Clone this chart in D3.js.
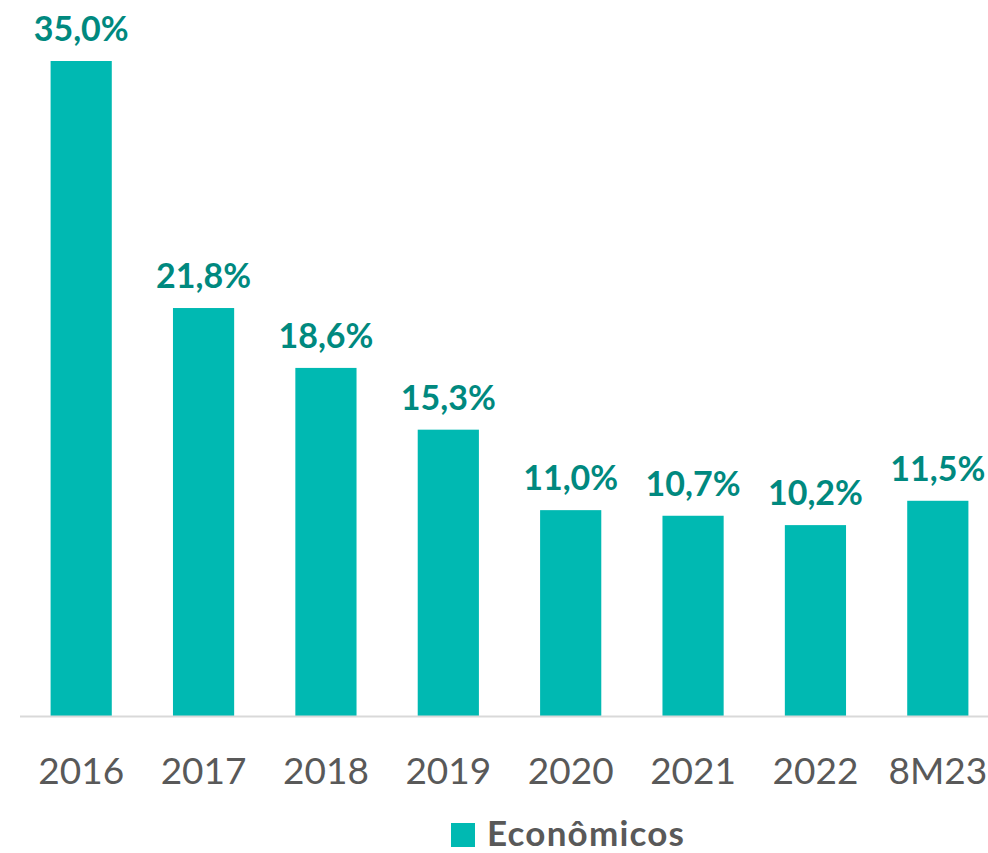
<!DOCTYPE html>
<html>
<head>
<meta charset="utf-8">
<script src="https://cdn.jsdelivr.net/npm/d3@7"></script>
<style>
  html, body { margin: 0; padding: 0; background: #fff; }
  svg { display: block; }
</style>
</head>
<body>
<svg id="chart" width="988" height="853"></svg>
<script>
// Categories and values (share, %)
const categories = ["2016", "2017", "2018", "2019", "2020", "2021", "2022", "8M23"];
const values = [35.0, 21.8, 18.6, 15.3, 11.0, 10.7, 10.2, 11.5];
const seriesName = "Econômicos";

const barColor = "#00B9B2";
const labelColor = "#00897F";
const textColor = "#595959";
const fontFamily = "Lato, 'Open Sans', sans-serif";

const svg = d3.select("#chart");
const baseline = 716;

const x = d3.scaleBand()
  .domain(categories)
  .range([20, 999])
  .paddingInner(0.5)
  .paddingOuter(0.25);

const y = d3.scaleLinear()
  .domain([0, 35])
  .range([baseline, 61]);

const fmt = v => d3.format(".1f")(v).replace(".", ",") + "%";

// Bars
svg.append("g")
  .selectAll("rect")
  .data(values)
  .join("rect")
  .attr("x", (d, i) => x(categories[i]))
  .attr("y", d => y(d))
  .attr("width", x.bandwidth())
  .attr("height", d => baseline - y(d))
  .attr("fill", barColor);

// Value labels
svg.append("g")
  .selectAll("text")
  .data(values)
  .join("text")
  .attr("x", (d, i) => x(categories[i]) + x.bandwidth() / 2)
  .attr("y", d => y(d) - 20)
  .attr("text-anchor", "middle")
  .attr("font-family", fontFamily)
  .attr("font-weight", "bold")
  .attr("font-size", 34)
  .attr("fill", labelColor)
  .text(d => fmt(d));

// Category axis
const axis = svg.append("g")
  .attr("transform", `translate(0,${baseline})`)
  .call(d3.axisBottom(x).tickSize(0).tickPadding(42));
axis.select(".domain")
  .attr("d", "M20,0.5H988")
  .attr("stroke", "#D9D9D9")
  .attr("stroke-width", 2);
axis.selectAll(".tick text")
  .attr("font-family", fontFamily)
  .attr("font-size", 37)
  .attr("fill", textColor)
  .attr("dy", "0.71em");

// Legend
const legend = svg.append("g").attr("transform", "translate(451,823)");
legend.append("rect")
  .attr("width", 24)
  .attr("height", 24)
  .attr("fill", barColor);
legend.append("text")
  .attr("x", 36)
  .attr("y", 23)
  .attr("font-family", fontFamily)
  .attr("font-weight", "bold")
  .attr("font-size", 35)
  .attr("letter-spacing", 1.2)
  .attr("fill", textColor)
  .text(seriesName);
</script>
</body>
</html>
